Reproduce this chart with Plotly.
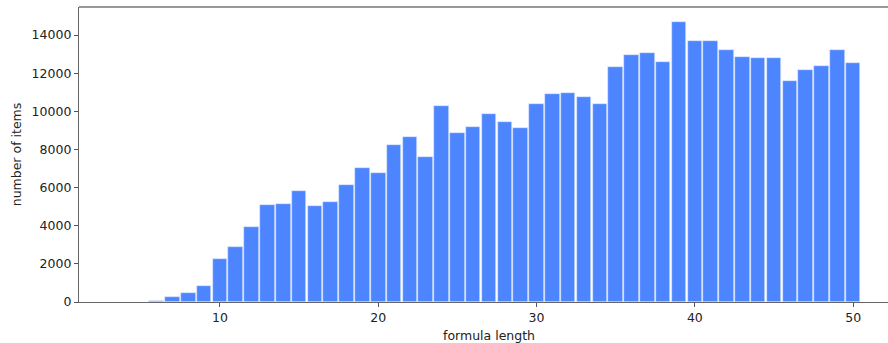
import plotly.graph_objects as go

lengths = list(range(6, 51))
counts = [40, 261, 488, 836, 2229, 2873, 3935, 5103, 5155, 5835,
          5050, 5260, 6148, 7036, 6757, 8237, 8655, 7627, 10255, 8881,
          9160, 9874, 9439, 9108, 10397, 10885, 10937, 10728, 10362, 12347,
          12974, 13044, 12608, 14665, 13672, 13707, 13218, 12835, 12817, 12782,
          11598, 12190, 12382, 13236, 12556]

y_ticks = [0, 2000, 4000, 6000, 8000, 10000, 12000, 14000]
y_tick_labels = ["0", "2000", "4000", "6000", "8000", "10000", "12000", "14000"]
x_ticks = [10, 20, 30, 40, 50]
x_tick_labels = ["10", "20", "30", "40", "50"]

fig = go.Figure(go.Bar(
    x=lengths, y=counts, width=0.92,
    marker=dict(color="#4d85ff", line=dict(color="#dfe8ff", width=0.6)),
))

axis_font = dict(family="DejaVu Sans", size=12.5, color="#222")
fig.update_layout(
    width=888, height=343,
    margin=dict(l=79, r=0, t=7, b=41, autoexpand=False),
    plot_bgcolor="white", paper_bgcolor="white",
    showlegend=False, bargap=0,
    font=axis_font,
    xaxis=dict(range=[1.1, 52.2], tickvals=x_ticks, ticktext=x_tick_labels,
               ticks="outside", ticklen=4, automargin=False,
               tickcolor="#555", showline=True, linecolor="#666", linewidth=1.3,
               showgrid=False, zeroline=False),
    yaxis=dict(range=[0, 15470], tickvals=y_ticks, ticktext=y_tick_labels,
               ticks="outside", ticklen=4, automargin=False,
               tickcolor="#555", showline=True, linecolor="#666", linewidth=1.3,
               showgrid=False, zeroline=False,
               title=dict(text="number of items", font=axis_font, standoff=7)),
    annotations=[dict(text="formula length", xref="paper", yref="paper",
                      x=0.5068, y=-0.113, xanchor="center", yanchor="middle",
                      showarrow=False, font=axis_font)],
    shapes=[dict(type="line", xref="paper", yref="paper", x0=0, x1=1, y0=1, y1=1,
                 line=dict(color="#333", width=1.2))],
)

fig.write_html("out.html", config={"displayModeBar": False},
               post_script="document.body.style.margin='0';")
